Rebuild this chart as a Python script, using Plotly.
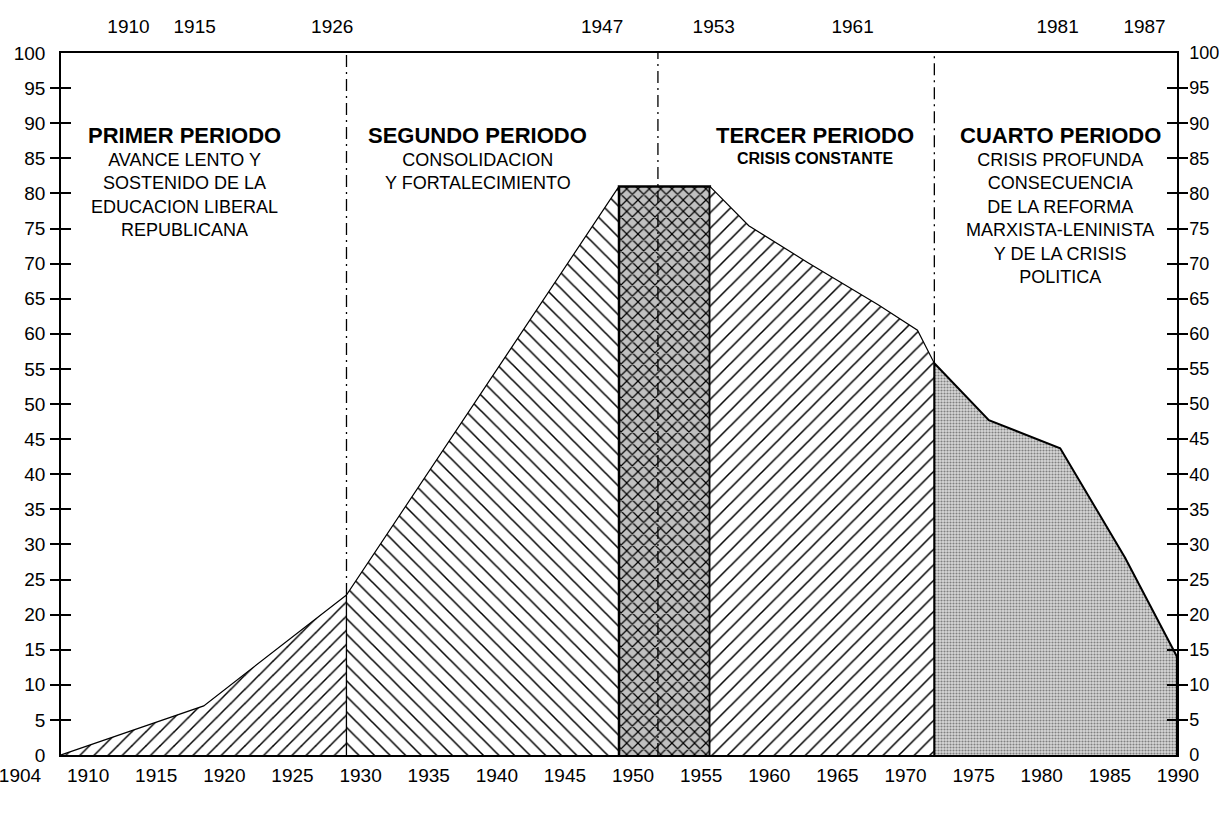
import plotly.graph_objects as go

# curva principal: año / porcentaje
years = [1904, 1910, 1915, 1926, 1947, 1954, 1957, 1961.5, 1967, 1970, 1971.3, 1975.5, 1981, 1986, 1990]
values = [0, 3.8, 7.0, 22.8, 81, 81, 75.4, 70.2, 64.1, 60.5, 55.8, 47.7, 43.7, 28.1, 14.0]

# limites de los periodos
breaks = [1904, 1926, 1947, 1954, 1971.3, 1990]
# lineas verticales punteadas
ref_lines = [1926, 1950, 1971.3]

bottom_labels = ['1904', '1910', '1915', '1920', '1925', '1930', '1935', '1940', '1945',
                 '1950', '1955', '1960', '1965', '1970', '1975', '1980', '1985', '1990']
top_labels = ['1910', '1915', '1926', '1947', '1953', '1961', '1981', '1987']
top_label_pos = [1909.2, 1914.3, 1924.9, 1945.7, 1954.3, 1965.0, 1980.8, 1987.5]
y_ticks = list(range(0, 101, 5))

titles = ['PRIMER PERIODO', 'SEGUNDO PERIODO', 'TERCER PERIODO', 'CUARTO PERIODO']
bodies = ['AVANCE LENTO Y<br>SOSTENIDO DE LA<br>EDUCACION LIBERAL<br>REPUBLICANA',
          'CONSOLIDACION<br>Y FORTALECIMIENTO',
          '<b>CRISIS CONSTANTE</b>',
          'CRISIS PROFUNDA<br>CONSECUENCIA<br>DE LA REFORMA<br>MARXISTA-LENINISTA<br>Y DE LA CRISIS<br>POLITICA']
label_x = [1913.5, 1936.1, 1962.1, 1981.0]
body_size = [18, 18, 16, 18]

FONT = 'Liberation Sans, Arial, sans-serif'

patterns = [
    dict(shape='/', size=10, solidity=0.15, fgcolor='black', bgcolor='white', fgopacity=1),
    dict(shape='\\', size=11, solidity=0.14, fgcolor='black', bgcolor='white', fgopacity=1),
    dict(shape='x', size=8, solidity=0.28, fgcolor='black', bgcolor='#c0c0c0', fgopacity=1),
    dict(shape='/', size=11, solidity=0.14, fgcolor='black', bgcolor='white', fgopacity=1),
    dict(shape='.', size=3, solidity=0.4, fgcolor='#808080', bgcolor='#d8d8d8', fgopacity=1),
]
edge_width = [1.2, 1.2, 2.5, 1.2, 2]

fig = go.Figure()

for i in range(len(breaks) - 1):
    start, end = breaks[i], breaks[i + 1]
    pts = [(yr, v) for yr, v in zip(years, values) if start <= yr <= end]
    xs = [start] + [p[0] for p in pts] + [end]
    ys = [0] + [p[1] for p in pts] + [0]
    fig.add_trace(go.Scatter(
        x=xs, y=ys, mode='lines', fill='toself',
        fillpattern=patterns[i],
        fillcolor=patterns[i]['bgcolor'],
        line=dict(color='black', width=edge_width[i]),
        hoverinfo='skip', showlegend=False
    ))

# eje inferior con etiquetas equiespaciadas
fig.add_trace(go.Scatter(x=bottom_labels, y=[None] * len(bottom_labels),
                         xaxis='x2', yaxis='y', mode='markers',
                         hoverinfo='skip', showlegend=False))
# eje superior con años marcados
fig.add_trace(go.Scatter(x=top_label_pos, y=[None] * len(top_label_pos),
                         xaxis='x3', yaxis='y', mode='markers',
                         hoverinfo='skip', showlegend=False))
for ax in ['y2', 'y3', 'y4', 'y5', 'y6']:
    fig.add_trace(go.Scatter(x=[years[0]], y=[None], yaxis=ax, mode='markers',
                             hoverinfo='skip', showlegend=False))

# lineas verticales de separacion
for xr in ref_lines:
    y0 = 0
    if xr in years:
        y0 = values[years.index(xr)]
    fig.add_shape(type='line', xref='x', yref='y', x0=xr, x1=xr, y0=y0, y1=100,
                  line=dict(color='black', width=1.3, dash='12px,5px,2px,5px'))

for i, t in enumerate(titles):
    fig.add_annotation(x=label_x[i], y=88.3, xref='x', yref='y', text='<b>' + t + '</b>',
                       showarrow=False, font=dict(family=FONT, size=22, color='black'),
                       xanchor='center', yanchor='middle')
    fig.add_annotation(x=label_x[i], y=86.4, xref='x', yref='y', text=bodies[i],
                       showarrow=False, font=dict(family=FONT, size=body_size[i], color='black'),
                       xanchor='center', yanchor='top', align='center')

tick_font = dict(family=FONT, size=19, color='black')
common_y = dict(range=[0, 100], showgrid=False, zeroline=False, fixedrange=True,
                automargin=False, anchor='x')
cross = dict(ticklen=10, tickwidth=1.5, tickcolor='black', showticklabels=False,
             showline=False, overlaying='y', tickvals=y_ticks[1:-1])

fig.update_layout(
    width=1219, height=832,
    margin=dict(l=2, r=2, t=53, b=77, autoexpand=False),
    paper_bgcolor='white', plot_bgcolor='rgba(0,0,0,0)',
    showlegend=False,
    font=dict(family=FONT, size=19, color='black'),
    xaxis=dict(domain=[0.04856, 0.96708], range=[1904, 1990], showline=True, mirror=True,
               linecolor='black', linewidth=1.5, ticks='', showticklabels=False,
               showgrid=False, zeroline=False, automargin=False),
    xaxis2=dict(domain=[0.01481, 0.96790], anchor='y', type='category',
                range=[0, len(bottom_labels) - 1], showline=False, showgrid=False,
                zeroline=False, ticks='', tickfont=tick_font, ticklabelstandoff=7,
                automargin=False),
    xaxis3=dict(overlaying='x', side='top', anchor='y', range=[1904, 1990],
                tickvals=top_label_pos, ticktext=top_labels, ticks='', showline=False,
                showgrid=False, zeroline=False, tickfont=tick_font, ticklabelstandoff=15,
                automargin=False),
    # etiquetas izquierda / derecha
    yaxis=dict(**common_y, side='left', tickvals=y_ticks, ticks='',
               showline=True, linecolor='black', linewidth=1.5, tickfont=tick_font,
               ticklabelstandoff=10),
    yaxis2=dict(**common_y, overlaying='y', side='right', tickvals=y_ticks,
                ticks='', showline=True, linecolor='black', linewidth=1.5,
                tickfont=dict(family=FONT, size=18, color='black'), ticklabelstandoff=7),
    # marcas cruzadas
    yaxis3=dict(**common_y, **cross, side='left', ticks='outside'),
    yaxis4=dict(**common_y, **cross, side='left', ticks='inside'),
    yaxis5=dict(**common_y, **cross, side='right', ticks='outside'),
    yaxis6=dict(**common_y, **cross, side='right', ticks='inside'),
)

fig.write_html("out.html", config={'displayModeBar': False},
               post_script="document.body.style.margin='0';")
